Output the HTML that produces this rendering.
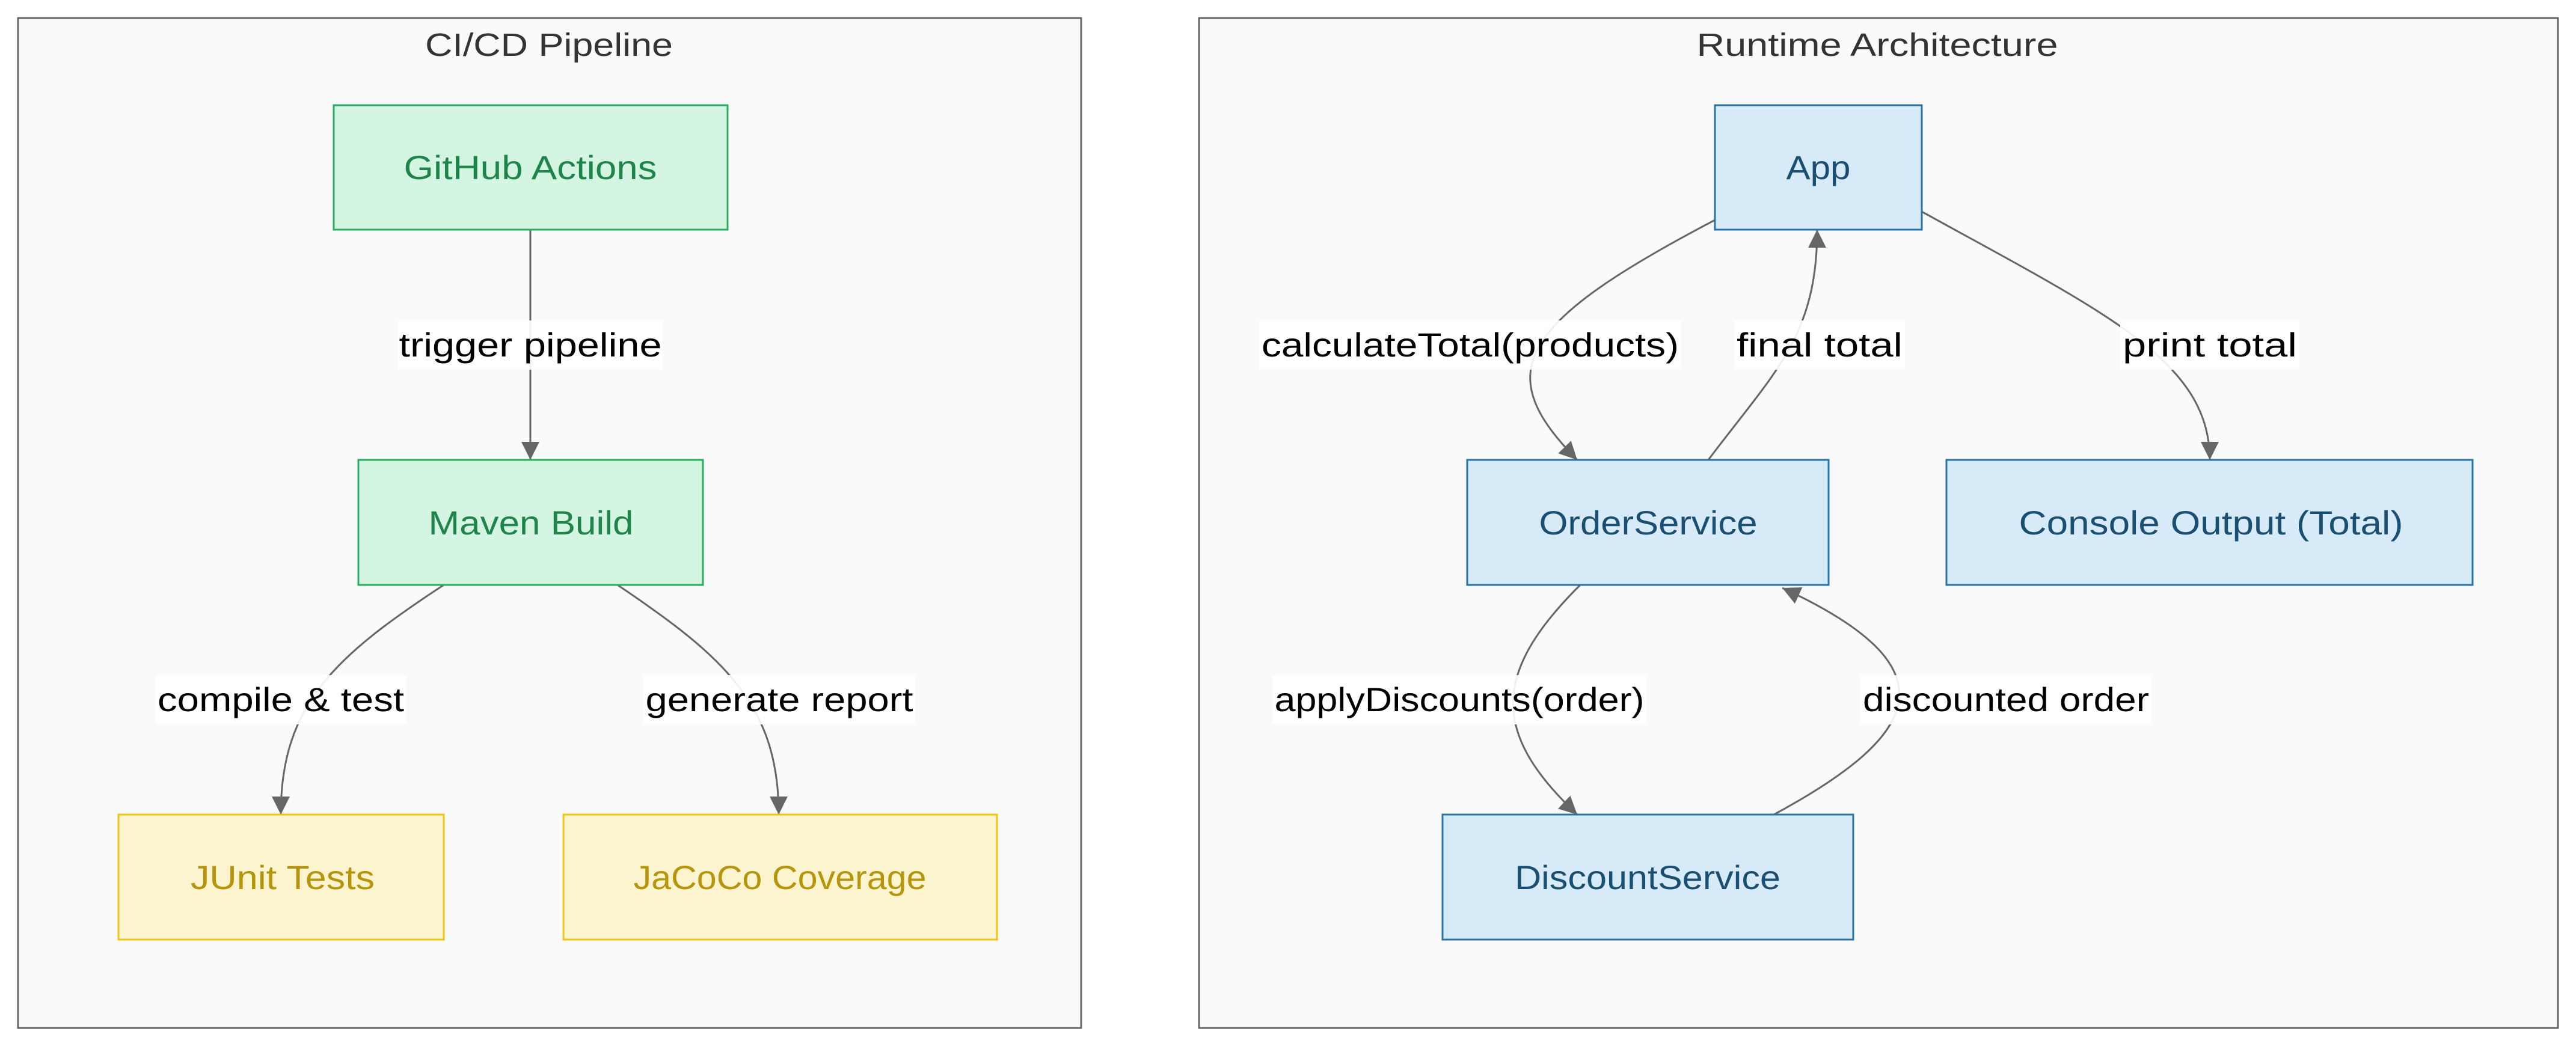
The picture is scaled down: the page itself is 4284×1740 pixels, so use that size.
<!DOCTYPE html>
<html><head><meta charset="utf-8"><style>html,body{margin:0;padding:0;background:#fff}svg{display:block}</style></head>
<body>
<svg width="4284" height="1740" viewBox="0 0 4284 1740" xmlns="http://www.w3.org/2000/svg" font-family="'Liberation Sans', sans-serif">
<defs>
<marker id="a" viewBox="0 0 10 10" refX="9" refY="5" markerWidth="8" markerHeight="8" markerUnits="userSpaceOnUse" orient="auto">
</marker>
<marker id="ar" viewBox="0 0 10 10" refX="10" refY="5" markerWidth="30" markerHeight="30" markerUnits="userSpaceOnUse" orient="auto"><path d="M0 0 L10 5 L0 10 z" fill="#666"/></marker>
</defs>
<rect x="30" y="30" width="1768" height="1680" fill="#fafafa" stroke="#666" stroke-width="3"/>
<rect x="1994" y="30" width="2260" height="1680" fill="#fafafa" stroke="#666" stroke-width="3"/>
<text x="913" y="93" font-size="54" fill="#333" text-anchor="middle" textLength="412" lengthAdjust="spacingAndGlyphs">CI/CD Pipeline</text>
<text x="3122" y="93" font-size="54" fill="#333" text-anchor="middle" textLength="601" lengthAdjust="spacingAndGlyphs">Runtime Architecture</text>

<g fill="none" stroke="#666" stroke-width="3" marker-end="url(#ar)">
<path d="M882 382 L882 765"/>
<path d="M738 973 C560 1090,467 1170,467 1355"/>
<path d="M1027 973 C1200 1090,1295 1170,1295 1355"/>
<path d="M2852 366 C2520 540,2480 620,2623 765"/>
<path d="M2841 765 C2950 620,3022 560,3022 382"/>
<path d="M3196 352 C3500 520,3675 600,3675 765"/>
<path d="M2628 973 C2480 1120,2480 1220,2623 1355"/>
<path d="M2950 1355 C3200 1220,3250 1110,2964 978"/>
</g>

<g font-size="56" fill="#000" text-anchor="middle">
<rect x="662" y="533" width="440" height="82" fill="#fff" opacity="0.9"/>
<text x="882" y="593" textLength="437" lengthAdjust="spacingAndGlyphs">trigger pipeline</text>
<rect x="258" y="1123" width="418" height="82" fill="#fff" opacity="0.9"/>
<text x="467" y="1183" textLength="410" lengthAdjust="spacingAndGlyphs">compile &amp; test</text>
<rect x="1070" y="1123" width="452" height="82" fill="#fff" opacity="0.9"/>
<text x="1296" y="1183" textLength="445" lengthAdjust="spacingAndGlyphs">generate report</text>
<rect x="2094" y="533" width="702" height="82" fill="#fff" opacity="0.9"/>
<text x="2445" y="593" textLength="694" lengthAdjust="spacingAndGlyphs">calculateTotal(products)</text>
<rect x="2884" y="533" width="284" height="82" fill="#fff" opacity="0.9"/>
<text x="3026" y="593" textLength="276" lengthAdjust="spacingAndGlyphs">final total</text>
<rect x="3526" y="533" width="298" height="82" fill="#fff" opacity="0.9"/>
<text x="3675" y="593" textLength="290" lengthAdjust="spacingAndGlyphs">print total</text>
<rect x="2116" y="1123" width="623" height="82" fill="#fff" opacity="0.9"/>
<text x="2427" y="1183" textLength="615" lengthAdjust="spacingAndGlyphs">applyDiscounts(order)</text>
<rect x="3094" y="1123" width="484" height="82" fill="#fff" opacity="0.9"/>
<text x="3336" y="1183" textLength="476" lengthAdjust="spacingAndGlyphs">discounted order</text>
</g>

<g stroke-width="3" font-size="56" text-anchor="middle">
<rect x="555" y="175" width="655" height="207" fill="#d5f5e3" stroke="#27ae60"/>
<text x="882" y="298" fill="#1e8449" stroke="none" textLength="421" lengthAdjust="spacingAndGlyphs">GitHub Actions</text>
<rect x="596" y="765" width="573" height="208" fill="#d5f5e3" stroke="#27ae60"/>
<text x="883" y="889" fill="#1e8449" stroke="none" textLength="341" lengthAdjust="spacingAndGlyphs">Maven Build</text>
<rect x="197" y="1355" width="541" height="208" fill="#fcf3cf" stroke="#f1c40f"/>
<text x="470" y="1479" fill="#b7950b" stroke="none" textLength="306" lengthAdjust="spacingAndGlyphs">JUnit Tests</text>
<rect x="937" y="1355" width="721" height="208" fill="#fcf3cf" stroke="#f1c40f"/>
<text x="1297" y="1479" fill="#b7950b" stroke="none" textLength="487" lengthAdjust="spacingAndGlyphs">JaCoCo Coverage</text>
<rect x="2852" y="175" width="344" height="207" fill="#d6eaf8" stroke="#2874a6"/>
<text x="3024" y="298" fill="#1b4f72" stroke="none" textLength="107" lengthAdjust="spacingAndGlyphs">App</text>
<rect x="2440" y="765" width="601" height="208" fill="#d6eaf8" stroke="#2874a6"/>
<text x="2741" y="889" fill="#1b4f72" stroke="none" textLength="363" lengthAdjust="spacingAndGlyphs">OrderService</text>
<rect x="3237" y="765" width="875" height="208" fill="#d6eaf8" stroke="#2874a6"/>
<text x="3677" y="889" fill="#1b4f72" stroke="none" textLength="639" lengthAdjust="spacingAndGlyphs">Console Output (Total)</text>
<rect x="2399" y="1355" width="683" height="208" fill="#d6eaf8" stroke="#2874a6"/>
<text x="2740" y="1479" fill="#1b4f72" stroke="none" textLength="442" lengthAdjust="spacingAndGlyphs">DiscountService</text>
</g>
</svg>
</body></html>
